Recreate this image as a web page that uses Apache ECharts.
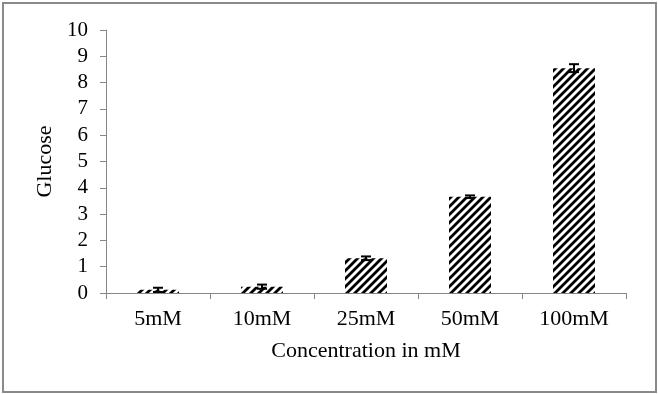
<!DOCTYPE html>
<html><head><meta charset="utf-8">
<script src="https://cdn.jsdelivr.net/npm/echarts@6/dist/echarts.min.js"></script>
<style>html,body{margin:0;padding:0;background:#fff}#c{width:658px;height:394px;position:relative}
#frame{position:absolute;left:2px;top:2px;width:651px;height:387px;border:2px solid #8a8a8a;pointer-events:none}</style>
</head><body><div id="c"></div><div id="frame"></div>
<script>
const categories = ['5mM','10mM','25mM','50mM','100mM'];
const glucose = [0.12, 0.24, 1.32, 3.66, 8.55];
const errors = [0.08, 0.08, 0.07, 0.05, 0.15];
const yTicks = {min: 0, max: 10, interval: 1};

const pc = document.createElement('canvas');
pc.width = 8; pc.height = 8;
const g = pc.getContext('2d');
g.fillStyle = '#fff'; g.fillRect(0,0,8,8);
g.strokeStyle = '#000'; g.lineWidth = 2.8;
g.beginPath();
g.moveTo(-2,10); g.lineTo(10,-2);
g.moveTo(-2,2); g.lineTo(2,-2);
g.moveTo(6,10); g.lineTo(10,6);
g.stroke();

const font = 'Liberation Serif';
const chart = echarts.init(document.getElementById('c'), null, {renderer:'canvas'});
chart.setOption({
  animation:false,
  grid:{left:106,right:32,top:30,bottom:101},
  xAxis:{type:'category',data:categories,
    axisLine:{lineStyle:{color:'#868686',width:1}},
    axisTick:{show:true,length:6,alignWithLabel:false,lineStyle:{color:'#868686'}},
    axisLabel:{color:'#000',fontFamily:font,fontSize:22,margin:15},
    name:'Concentration in mM',nameLocation:'middle',nameGap:47,
    nameTextStyle:{color:'#000',fontFamily:font,fontSize:22}},
  yAxis:{type:'value',min:yTicks.min,max:yTicks.max,interval:yTicks.interval,
    axisLine:{show:true,lineStyle:{color:'#868686',width:1}},
    axisTick:{show:true,length:6,lineStyle:{color:'#868686'}},
    splitLine:{show:false},
    axisLabel:{color:'#000',fontFamily:font,fontSize:21,margin:18},
    name:'Glucose',nameLocation:'middle',nameGap:50,
    nameTextStyle:{color:'#000',fontFamily:font,fontSize:22}},
  series:[
    {type:'bar',data:glucose,barWidth:42,
      itemStyle:{color:{image:pc,repeat:'repeat'}}},
    {type:'custom',data:glucose.map((v,i)=>[i,v-errors[i],v+errors[i]]),z:5,
      renderItem:function(params,api){
        const lo=api.coord([api.value(0),api.value(1)]);
        const hi=api.coord([api.value(0),api.value(2)]);
        const x=lo[0], w=5;
        const st={stroke:'#000',lineWidth:2};
        return {type:'group',children:[
          {type:'line',shape:{x1:x,y1:lo[1],x2:x,y2:hi[1]},style:st},
          {type:'line',shape:{x1:x-w,y1:lo[1],x2:x+w,y2:lo[1]},style:st},
          {type:'line',shape:{x1:x-w,y1:hi[1],x2:x+w,y2:hi[1]},style:st}]};
      }}
  ]
});
</script></body></html>
